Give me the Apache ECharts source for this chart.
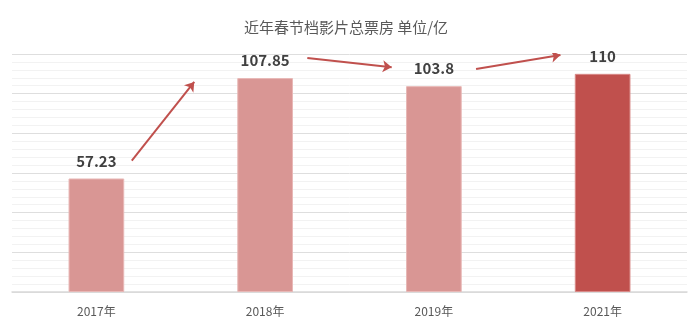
<!DOCTYPE html>
<html>
<head>
  <meta charset="UTF-8" />
  <title>近年春节档影片总票房</title>
  <script src="https://cdn.jsdelivr.net/npm/echarts@6/dist/echarts.min.js"></script>
  <style>
    html, body { margin: 0; padding: 0; background: #fff; }
    #chart { width: 692px; height: 334px; }
  </style>
</head>
<body>
  <div id="chart"></div>
  <script>
    // 数据
    const years = ['2017年', '2018年', '2019年', '2021年'];
    const boxOffice = [57.23, 107.85, 103.8, 110];
    const barColors = ['#d99694', '#d99694', '#d99694', '#c0504d'];
    const barBorders = ['#e8b8b6', '#e8b8b6', '#e8b8b6', '#d98a88'];

    // 趋势箭头 [起点类目位置, 起点值, 终点类目位置, 终点值]
    const arrows = [
      [0.21, 66.3, 0.58, 105.9],
      [1.25, 118.0, 1.75, 113.3],
      [2.25, 112.4, 2.75, 119.5]
    ];

    const font = '"Noto Sans CJK SC", "Noto Sans", sans-serif';
    const chart = echarts.init(document.getElementById('chart'));

    chart.setOption({
      animation: false,
      title: {
        text: '近年春节档影片总票房 单位/亿',
        left: 'center',
        top: 15,
        textStyle: { fontFamily: font, fontSize: 15, fontWeight: 'normal', color: '#595959' }
      },
      grid: { left: 12, right: 5, top: 54, bottom: 42 },
      xAxis: [{
        type: 'category',
        data: years,
        axisTick: { show: false },
        axisLine: { lineStyle: { color: '#d9d9d9', width: 1.5 } },
        axisLabel: { fontFamily: font, fontSize: 12, color: '#595959', margin: 13 }
      }, {
        type: 'value',
        min: -0.5,
        max: 3.5,
        show: false
      }],
      yAxis: {
        type: 'value',
        min: 0,
        max: 120,
        interval: 20,
        axisLabel: { show: false },
        axisLine: { show: false },
        axisTick: { show: false },
        splitLine: { lineStyle: { color: '#dedede', width: 1 } },
        minorTick: { show: false, splitNumber: 5 },
        minorSplitLine: { show: true, lineStyle: { color: '#f2f2f2', width: 1 } }
      },
      series: [{
        type: 'bar',
        barWidth: '33%',
        data: boxOffice.map((v, i) => ({
          value: v,
          itemStyle: { color: barColors[i], borderColor: barBorders[i], borderWidth: 1 }
        })),
        label: {
          show: true,
          position: 'top',
          distance: 10,
          fontFamily: font,
          fontSize: 15,
          fontWeight: 'bold',
          color: '#404040'
        }
      }, {
        type: 'lines',
        coordinateSystem: 'cartesian2d',
        xAxisIndex: 1,
        yAxisIndex: 0,
        symbol: ['none', 'arrow'],
        symbolSize: 9,
        lineStyle: { color: '#c0504d', width: 2, opacity: 1 },
        data: arrows.map(a => ({ coords: [[a[0], a[1]], [a[2], a[3]]] }))
      }]
    });
  </script>
</body>
</html>
